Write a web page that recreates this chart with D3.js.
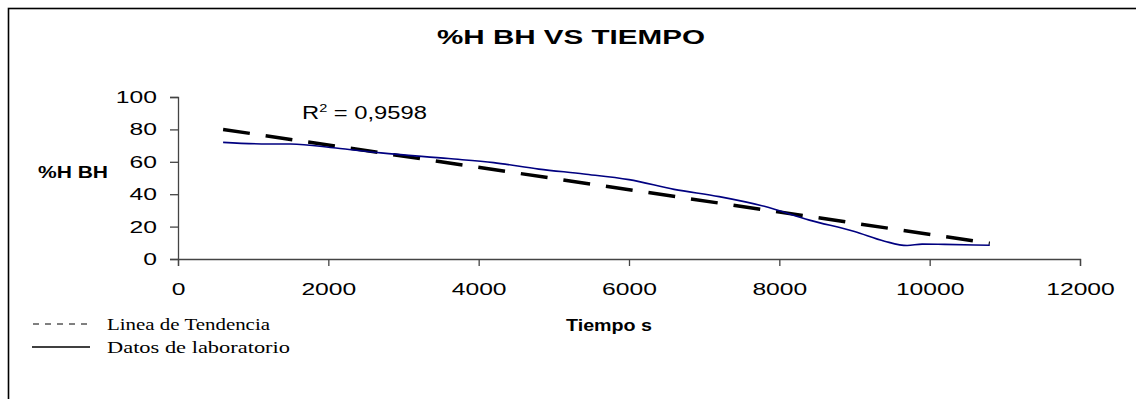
<!DOCTYPE html>
<html>
<head>
<meta charset="utf-8">
<script src="https://cdn.jsdelivr.net/npm/d3@7/dist/d3.min.js"></script>
<style>
  html, body { margin: 0; padding: 0; background: #fff; }
  svg { display: block; }
</style>
</head>
<body>
<svg id="chart" width="1136" height="399"></svg>
<script>
// Drying curve: moisture (% wet basis) against time in seconds
const tiempo = [600, 1200, 1500, 2100, 2700, 3600, 4200, 4800, 5400, 6000, 6600, 7200, 7800, 8400, 9000, 9400, 9700, 9900, 10200, 10800];
const humedad = [72, 71, 71, 68.5, 65.5, 62, 59.5, 55.5, 52.5, 49, 43, 38.5, 32.5, 24, 17, 11, 8.3, 9.2, 9, 8.5];

// Linear trend line end points
const tendenciaT = [600, 10800];
const tendenciaH = [80, 9.7];

const xTicks = [0, 2000, 4000, 6000, 8000, 10000, 12000];
const yTicks = [0, 20, 40, 60, 80, 100];

const titulo = "%H BH VS TIEMPO";
const ejeX = "Tiempo s";
const ejeY = "%H BH";
const r2Texto = "0,9598";
const leyenda = ["Linea de Tendencia", "Datos de laboratorio"];

const SANS = "Arial, 'Liberation Sans', sans-serif";
const SERIF = "'Liberation Serif', 'Times New Roman', serif";

// widen text horizontally (the chart uses broad lettering)
function widen(sel, k) {
  sel.each(function () {
    const w = this.getComputedTextLength();
    d3.select(this).attr("textLength", w * k).attr("lengthAdjust", "spacingAndGlyphs");
  });
}
function fitWidth(sel, w) {
  sel.attr("textLength", w).attr("lengthAdjust", "spacingAndGlyphs");
}

const svg = d3.select("#chart");

// outer frame
svg.append("rect")
  .attr("x", 8.5).attr("y", 8.5)
  .attr("width", 1140).attr("height", 400)
  .attr("fill", "none").attr("stroke", "#000").attr("stroke-width", 1.6);

const x = d3.scaleLinear().domain([0, 12000]).range([178, 1080]);
const y = d3.scaleLinear().domain([0, 100]).range([259, 97]);

// axes
const xAxis = svg.append("g")
  .attr("transform", `translate(0,${y(0)})`)
  .call(d3.axisBottom(x).tickValues(xTicks).tickFormat(d3.format("d")).tickSize(7).tickPadding(17));
const yAxis = svg.append("g")
  .attr("transform", `translate(${x(0)},0)`)
  .call(d3.axisLeft(y).tickValues(yTicks).tickFormat(d3.format("d")).tickSize(8).tickPadding(13));

[xAxis, yAxis].forEach(g => {
  g.select(".domain").attr("stroke", "#444").attr("stroke-width", 1.3);
  g.selectAll(".tick line").attr("stroke", "#444").attr("stroke-width", 1.3);
  g.selectAll(".tick text")
    .attr("fill", "#000")
    .style("font-family", SANS)
    .style("font-size", "17px");
  widen(g.selectAll(".tick text"), 1.45);
});

// trend line
const tendencia = tendenciaT.map((t, i) => [t, tendenciaH[i]]);
svg.append("path")
  .datum(tendencia)
  .attr("d", d3.line().x(d => x(d[0])).y(d => y(d[1])))
  .attr("fill", "none")
  .attr("stroke", "#000")
  .attr("stroke-width", 3.5)
  .attr("stroke-dasharray", "27,16");

// laboratory data
const datos = tiempo.map((t, i) => [t, humedad[i]]);
svg.append("path")
  .datum(datos)
  .attr("d", d3.line().x(d => x(d[0])).y(d => y(d[1])).curve(d3.curveMonotoneX))
  .attr("fill", "none")
  .attr("stroke", "#000080")
  .attr("stroke-width", 1.6);

// title
svg.append("text")
  .attr("x", 571).attr("y", 43.5)
  .attr("text-anchor", "middle")
  .style("font-family", SANS)
  .style("font-size", "21px").style("font-weight", "bold")
  .text(titulo)
  .call(fitWidth, 268);

// axis titles
svg.append("text")
  .attr("x", 566).attr("y", 331)
  .style("font-family", SANS)
  .style("font-size", "16px").style("font-weight", "bold")
  .text(ejeX)
  .call(fitWidth, 86);

svg.append("text")
  .attr("x", 38).attr("y", 178)
  .style("font-family", SANS)
  .style("font-size", "16px").style("font-weight", "bold")
  .text(ejeY)
  .call(fitWidth, 70);

// R squared label
const r2 = svg.append("text")
  .attr("x", 0).attr("y", 0)
  .style("font-family", SANS)
  .style("font-size", "18px");
r2.append("tspan").text("R");
r2.append("tspan").attr("dy", -7).style("font-size", "11px").text("2");
r2.append("tspan").attr("dy", 7).text(" = " + r2Texto);
const r2w = r2.node().getBBox().width;
r2.attr("transform", `translate(302,118.5) scale(${125 / r2w},1)`);

// legend
const leg = svg.append("g");
leg.append("line")
  .attr("x1", 33).attr("x2", 88).attr("y1", 324).attr("y2", 324)
  .attr("stroke", "#000").attr("stroke-width", 1).attr("stroke-dasharray", "6,6");
leg.append("line")
  .attr("x1", 32).attr("x2", 90).attr("y1", 347).attr("y2", 347)
  .attr("stroke", "#000").attr("stroke-width", 1.6);
const legW = [163, 183];
leyenda.forEach((s, i) => {
  leg.append("text")
    .attr("x", 107).attr("y", 330 + i * 23)
    .style("font-family", SERIF)
    .style("font-size", "17px")
    .text(s)
    .call(fitWidth, legW[i]);
});
</script>
</body>
</html>
